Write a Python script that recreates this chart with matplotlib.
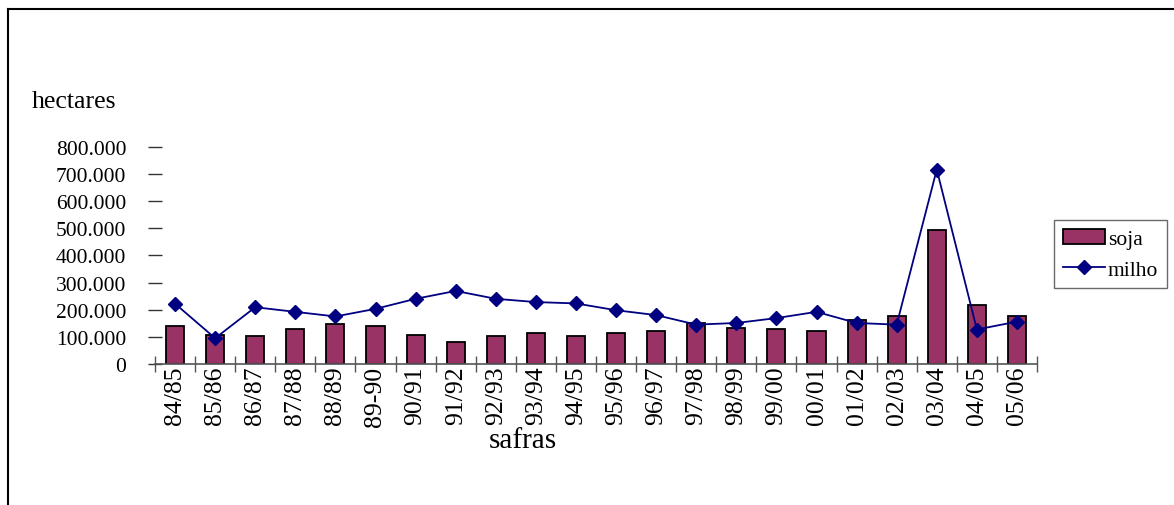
import matplotlib
matplotlib.use("Agg")
import matplotlib.pyplot as plt
from matplotlib.lines import Line2D
from matplotlib.ticker import FuncFormatter, FixedLocator

safras = ["84/85", "85/86", "86/87", "87/88", "88/89", "89-90", "90/91", "91/92",
          "92/93", "93/94", "94/95", "95/96", "96/97", "97/98", "98/99", "99/00",
          "00/01", "01/02", "02/03", "03/04", "04/05", "05/06"]
soja = [139000, 108000, 103000, 128000, 146000, 139000, 108000, 80000,
        103000, 115000, 103000, 115000, 122000, 152000, 134000, 128000,
        122000, 163000, 175000, 495000, 218000, 175000]
milho = [222000, 95000, 209000, 192000, 175000, 203000, 240000, 269000,
         240000, 228000, 223000, 198000, 180000, 145000, 151000, 169000,
         192000, 151000, 145000, 716000, 127000, 156000]
y_ticks = [0, 100000, 200000, 300000, 400000, 500000, 600000, 700000, 800000]

plt.rcParams['font.family'] = ['Liberation Serif', 'DejaVu Serif']

W, H = 1174, 506
fig = plt.figure(figsize=(W / 100, H / 100), dpi=100)
ax = fig.add_axes([155 / W, 1 - 365 / H, (1037 - 155) / W, (365 - 147.7) / H])

x = list(range(len(safras)))
bars = ax.bar(x, soja, width=0.45, color="#993366", edgecolor="black", linewidth=1.3,
              label="soja", zorder=2)
line, = ax.plot(x, milho, color="#000080", linewidth=1.3, marker="D", markersize=7.5,
                label="milho", zorder=3)

ax.set_xlim(-0.5, len(safras) - 0.5)
ax.set_ylim(0, 800000)

for s in ["top", "right", "left"]:
    ax.spines[s].set_visible(False)
ax.spines["bottom"].set_color("#555555")
ax.spines["bottom"].set_linewidth(1.2)

# x: boundary ticks (major), labels at centers (minor)
ax.xaxis.set_major_locator(FixedLocator([i - 0.5 for i in range(len(safras) + 1)]))
ax.xaxis.set_major_formatter(FuncFormatter(lambda v, p: ""))
ax.set_xticks(x, minor=True)
ax.set_xticklabels(safras, minor=True, fontsize=18.5, rotation=90)
ax.tick_params(axis="x", which="major", direction="inout", length=12, width=1.0,
               color="#555555")
ax.tick_params(axis="x", which="minor", length=0, pad=1)

ax.yaxis.set_major_locator(FixedLocator(y_ticks))
ax.yaxis.set_major_formatter(FuncFormatter(
    lambda v, p: "0" if v == 0 else f"{int(v):,}".replace(",", ".")))
ax.tick_params(axis="y", direction="inout", length=9.5, width=1.0,
               color="#333333", labelsize=15.5, pad=16)

fig.text(32 / W, 1 - 108 / H, "hectares", fontsize=18.5, ha="left", va="baseline")
fig.text(523 / W, 1 - 448 / H, "safras", fontsize=21, ha="center", va="baseline")

leg = fig.legend([bars, line], ["soja", "milho"], loc="upper left",
                 bbox_to_anchor=(1054 / W, 1 - 221 / H),
                 borderaxespad=0, fancybox=False, fontsize=15.5, frameon=True,
                 handlelength=1.95, handletextpad=0.15, borderpad=0.4,
                 labelspacing=0.5)
leg.get_frame().set_edgecolor("#444444")
leg.get_frame().set_linewidth(1.0)

# figure frame (left and top)
fig.add_artist(Line2D([8 / W, 8 / W], [0, 1 - 10 / H], transform=fig.transFigure,
                      color="black", linewidth=1.5))
fig.add_artist(Line2D([8 / W, 1], [1 - 10 / H, 1 - 10 / H], transform=fig.transFigure,
                      color="black", linewidth=1.5))

fig.savefig("out.png", dpi=100)
